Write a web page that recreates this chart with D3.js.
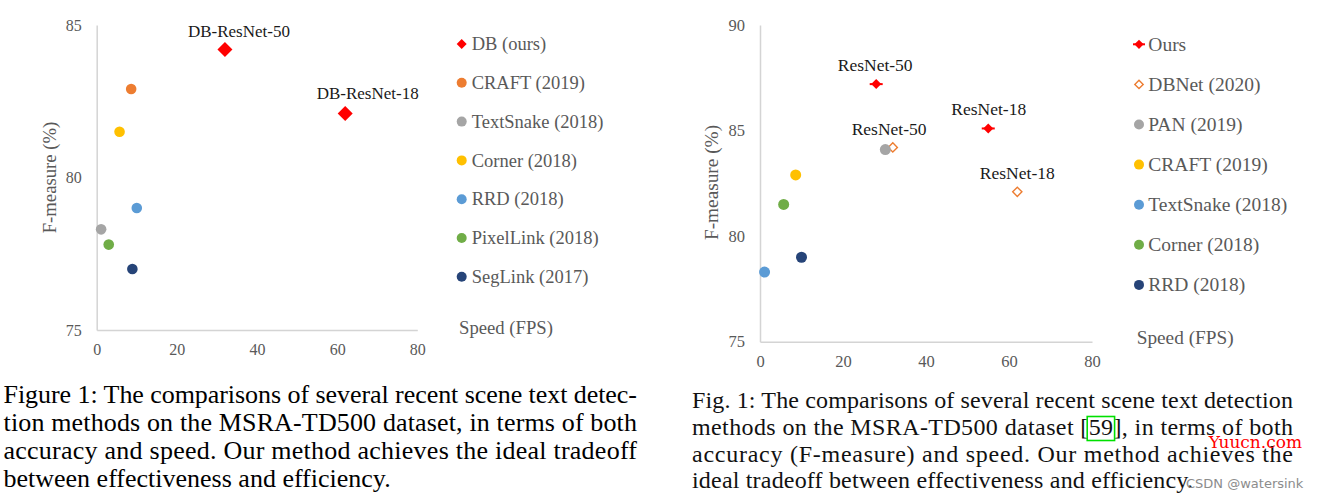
<!DOCTYPE html>
<html><head><meta charset="utf-8">
<script src="https://cdn.jsdelivr.net/npm/d3@7"></script>
<style>
html,body{margin:0;padding:0;background:#fff;}
svg{display:block;}
</style></head>
<body><svg id="c" width="1318" height="499"></svg>
<script>
// ---------- DATA ----------
// Left chart
const leftMethods = ["DB (ours)", "CRAFT (2019)", "TextSnake (2018)", "Corner (2018)", "RRD (2018)", "PixelLink (2018)", "SegLink (2017)"];
const leftFps = [[32, 62], [8.6], [1.1], [5.7], [10], [3], [8.9]];
const leftFmeasure = [[84.2, 82.1], [82.9], [78.3], [81.5], [79.0], [77.8], [77.0]];
const leftPointLabels = [["DB-ResNet-50", "DB-ResNet-18"], [], [], [], [], [], []];
const leftXTicks = [0, 20, 40, 60, 80];
const leftYTicks = [75, 80, 85];

// Right chart
const rightMethods = ["Ours", "DBNet (2020)", "PAN (2019)", "CRAFT (2019)", "TextSnake (2018)", "Corner (2018)", "RRD (2018)"];
const rightFps = [[28, 55], [32, 62], [30.2], [8.6], [1.1], [5.7], [10]];
const rightFmeasure = [[87.2, 85.1], [84.2, 82.1], [84.1], [82.9], [78.3], [81.5], [79.0]];
const rightPointLabels = [["ResNet-50", "ResNet-18"], ["ResNet-50", "ResNet-18"], [], [], [], [], []];
const rightXTicks = [0, 20, 40, 60, 80];
const rightYTicks = [75, 80, 85, 90];

const xTitle = "Speed (FPS)";
const yTitle = "F-measure (%)";

const leftCaption = [
  "Figure 1: The comparisons of several recent scene text detec-",
  "tion methods on the MSRA-TD500 dataset, in terms of both",
  "accuracy and speed. Our method achieves the ideal tradeoff",
  "between effectiveness and efficiency."
];
const rightCaption = [
  "Fig. 1: The comparisons of several recent scene text detection",
  "methods on the MSRA-TD500 dataset [59], in terms of both",
  "accuracy (F-measure) and speed. Our method achieves the",
  "ideal tradeoff between effectiveness and efficiency."
];
const citation = "59";
const watermarks = ["Yuucn.com", "CSDN @watersink"];

// ---------- STYLE / LAYOUT ----------
const officeColors = ["#ff0000", "#ed7d31", "#a5a5a5", "#ffc000", "#5b9bd5", "#70ad47", "#264478"];
const SERIF = "'Liberation Serif', 'Times New Roman', serif";
const svg = d3.select("#c");

function diamondPath(h) { return `M0,${-h}L${h},0L0,${h}L${-h},0Z`; }

function drawMarker(g, shape, col, cx, cy, sizes) {
  if (shape === "circle") {
    g.append("circle").attr("cx", cx).attr("cy", cy).attr("r", sizes.r).attr("fill", col);
    return;
  }
  const m = g.append("g").attr("transform", `translate(${cx},${cy})`);
  if (shape === "diamondLine") {
    m.append("line").attr("x1", -sizes.stub).attr("x2", sizes.stub)
      .attr("stroke", col).attr("stroke-width", 2);
  }
  m.append("path").attr("d", diamondPath(shape === "open" ? sizes.openH : sizes.diamondH))
    .attr("fill", shape === "open" ? "#fff" : col)
    .attr("stroke", col).attr("stroke-width", shape === "open" ? 1.4 : 0);
}

function drawChart(cfg) {
  const x = d3.scaleLinear().domain([0, 80]).range(cfg.xRange);
  const y = d3.scaleLinear().domain(cfg.yDomain).range(cfg.yRange);
  const g = svg.append("g");

  const yAxis = g.append("g").attr("transform", `translate(${cfg.xRange[0]},0)`)
    .call(d3.axisLeft(y).tickValues(cfg.yTicks).tickSize(0).tickSizeOuter(0).tickPadding(15));
  const xAxis = g.append("g").attr("transform", `translate(0,${cfg.yRange[0]})`)
    .call(d3.axisBottom(x).tickValues(cfg.xTicks).tickSize(0).tickSizeOuter(0).tickPadding(14));
  [yAxis, xAxis].forEach(a => {
    a.select(".domain").attr("stroke", "#d4d4d4").attr("stroke-width", 1.5);
    a.selectAll("text").attr("font-family", SERIF).attr("font-size", cfg.tickFont).attr("fill", "#595959");
  });

  g.append("text")
    .attr("transform", `translate(${cfg.yTitlePos[0]},${cfg.yTitlePos[1]}) rotate(-90)`)
    .attr("text-anchor", "middle").attr("dy", "0.33em")
    .attr("font-family", SERIF).attr("font-size", cfg.titleFont).attr("fill", "#595959")
    .text(yTitle);
  g.append("text").attr("x", cfg.xTitlePos[0]).attr("y", cfg.xTitlePos[1])
    .attr("font-family", SERIF).attr("font-size", cfg.titleFont).attr("fill", "#595959")
    .text(xTitle);

  cfg.methods.forEach((m, i) => {
    const pts = cfg.fps[i].map((v, j) => ({ x: v, y: cfg.fm[i][j], label: cfg.labels[i][j], j }));
    const shape = cfg.shapes[i], col = cfg.colors[i];
    pts.forEach(d => {
      drawMarker(g, shape, col, x(d.x), y(d.y), cfg.marker);
      if (d.label) {
        const off = cfg.labelOffset(i, d.j);
        g.append("text").attr("x", x(d.x) + off[0]).attr("y", y(d.y) + off[1])
          .attr("text-anchor", "middle")
          .attr("font-family", SERIF).attr("font-size", cfg.labelFont).attr("fill", "#1a1a1a")
          .text(d.label);
      }
    });
    const ly = cfg.legend.y0 + i * cfg.legend.step;
    drawMarker(g, shape, col, cfg.legend.mx, ly, cfg.legend.marker);
    g.append("text").attr("x", cfg.legend.tx).attr("y", ly).attr("dy", "0.33em")
      .attr("font-family", SERIF).attr("font-size", cfg.legend.font).attr("fill", "#595959")
      .text(m);
  });
}

const leftOffsets = [[14, -12.5], [22.5, -14.7]];
drawChart({
  methods: leftMethods, fps: leftFps, fm: leftFmeasure, labels: leftPointLabels,
  xTicks: leftXTicks, yTicks: leftYTicks,
  xRange: [96.7, 417.3], yDomain: [75, 85], yRange: [330, 25],
  colors: officeColors, shapes: ["diamond", "circle", "circle", "circle", "circle", "circle", "circle"],
  marker: { r: 5.3, diamondH: 7.5, openH: 4.5, stub: 0 },
  tickFont: 16, titleFont: 18.7, labelFont: 17,
  yTitlePos: [50, 177.5], xTitlePos: [459, 334.3],
  labelOffset: (i, j) => leftOffsets[j],
  legend: { mx: 461.7, tx: 471.7, y0: 44, step: 38.8, font: 18.5,
            marker: { r: 5, diamondH: 5, openH: 4.2, stub: 0 } }
});

const rightOffsets = [[[-1, -13], [0.5, -13.4]], [[-3.7, -12.7], [0, -12.4]]];
drawChart({
  methods: rightMethods, fps: rightFps, fm: rightFmeasure, labels: rightPointLabels,
  xTicks: rightXTicks, yTicks: rightYTicks,
  xRange: [760, 1092], yDomain: [75, 90], yRange: [341.7, 25],
  colors: officeColors, shapes: ["diamondLine", "open", "circle", "circle", "circle", "circle", "circle"],
  marker: { r: 5.5, diamondH: 5, openH: 4.6, stub: 6.5 },
  tickFont: 16.5, titleFont: 19.3, labelFont: 17.5,
  yTitlePos: [711.7, 182.5], xTitlePos: [1136.7, 344],
  labelOffset: (i, j) => rightOffsets[i][j],
  legend: { mx: 1139, tx: 1148.3, y0: 44.3, step: 40.1, font: 19.5,
            marker: { r: 5, diamondH: 4.6, openH: 4.2, stub: 6 } }
});

// ---------- CAPTIONS ----------
leftCaption.forEach((line, i) => {
  const t = svg.append("text").attr("x", 3.5).attr("y", 403.3 + i * 27.8)
    .attr("font-family", SERIF).attr("font-size", 26).attr("fill", "#000").text(line);
  if (i < 3) t.attr("textLength", 633.5).attr("lengthAdjust", "spacing");
});
let citeText = null;
rightCaption.forEach((line, i) => {
  const t = svg.append("text").attr("x", 692).attr("y", 408.3 + i * 26.7)
    .attr("font-family", SERIF).attr("font-size", 24).attr("fill", "#111").text(line);
  t.attr("textLength", i < 3 ? 601 : 501).attr("lengthAdjust", "spacing");
  if (line.includes("[" + citation + "]")) citeText = { node: t.node(), idx: line.indexOf(citation) };
});
if (citeText) {
  const a = citeText.node.getExtentOfChar(citeText.idx);
  const b = citeText.node.getExtentOfChar(citeText.idx + citation.length - 1);
  svg.append("rect").attr("x", a.x - 1.5).attr("y", a.y + 2.5)
    .attr("width", b.x + b.width - a.x + 3).attr("height", a.height - 2)
    .attr("fill", "none").attr("stroke", "#00e000").attr("stroke-width", 1.6);
}

// watermarks (as in the reference image)
svg.append("text").attr("x", 1208.7).attr("y", 448)
  .attr("font-family", "'DejaVu Serif', serif").attr("font-size", 17).attr("fill", "#ff0000")
  .text(watermarks[0]);
svg.append("text").attr("x", 1186).attr("y", 488)
  .attr("font-family", "'DejaVu Sans', sans-serif").attr("font-size", 13).attr("fill", "#8c8c8c")
  .text(watermarks[1]);
</script>
</body></html>
